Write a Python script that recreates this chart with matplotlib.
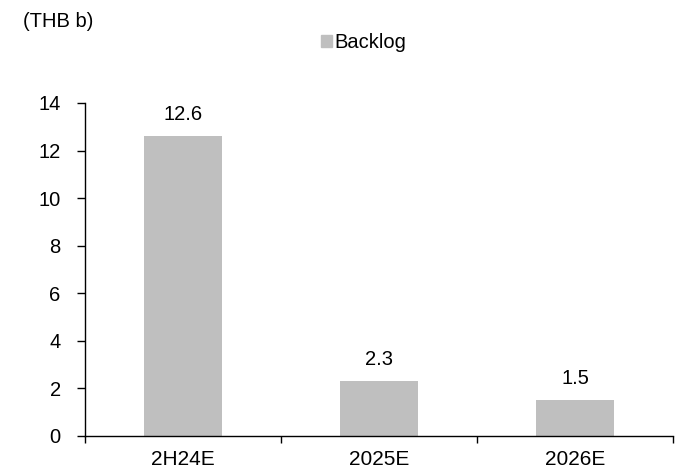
import matplotlib
matplotlib.use("Agg")
import matplotlib.pyplot as plt
from matplotlib.patches import Patch

categories = ["2H24E", "2025E", "2026E"]
backlog = [12.6, 2.3, 1.5]
labels = ["12.6", "2.3", "1.5"]
yticks = [0, 2, 4, 6, 8, 10, 12, 14]

plt.rcParams['font.family'] = ['Liberation Sans', 'DejaVu Sans']
FS = 14.5
fig = plt.figure(figsize=(6.76, 4.72), dpi=100)
ax = fig.add_axes([0.1257, 0.0763, 0.8698, 0.7055])
color = "#BFBFBF"
x = list(range(len(categories)))
bars = ax.bar(x, backlog, width=0.4, color=color, zorder=2)
for xi, v, lab in zip(x, backlog, labels):
    ax.annotate(lab, (xi, v), xytext=(0, 9), textcoords="offset points",
                ha="center", va="bottom", fontsize=FS)
ax.set_xlim(-0.5, len(categories) - 0.5)
ax.set_ylim(0, 14)
ax.set_yticks(yticks)
ax.set_yticklabels([str(t) for t in yticks], fontsize=FS)
ax.set_xticks([i + 0.5 for i in range(-1, len(categories))], minor=False)
ax.set_xticklabels([])
ax.set_xticks(x, minor=True)
ax.set_xticklabels(categories, minor=True, fontsize=15)
ax.tick_params(axis='x', which='major', direction='out', length=5, width=1)
ax.tick_params(axis='x', which='minor', length=0, pad=10)
ax.tick_params(axis='y', direction='out', length=5.5, width=1, pad=12)
for s in ["top", "right"]:
    ax.spines[s].set_visible(False)
for s in ["left", "bottom"]:
    ax.spines[s].set_linewidth(1)
    ax.spines[s].set_color("black")
fig.text(0.034, 0.955, "(THB b)", fontsize=FS, va="center", ha="left")
fig.legend(handles=[Patch(color=color, label="Backlog")], loc="center",
           bbox_to_anchor=(0.538, 0.91), frameon=False, fontsize=FS,
           handlelength=0.55, handleheight=0.55, handletextpad=0.15)
fig.savefig("out.png", dpi=100)
